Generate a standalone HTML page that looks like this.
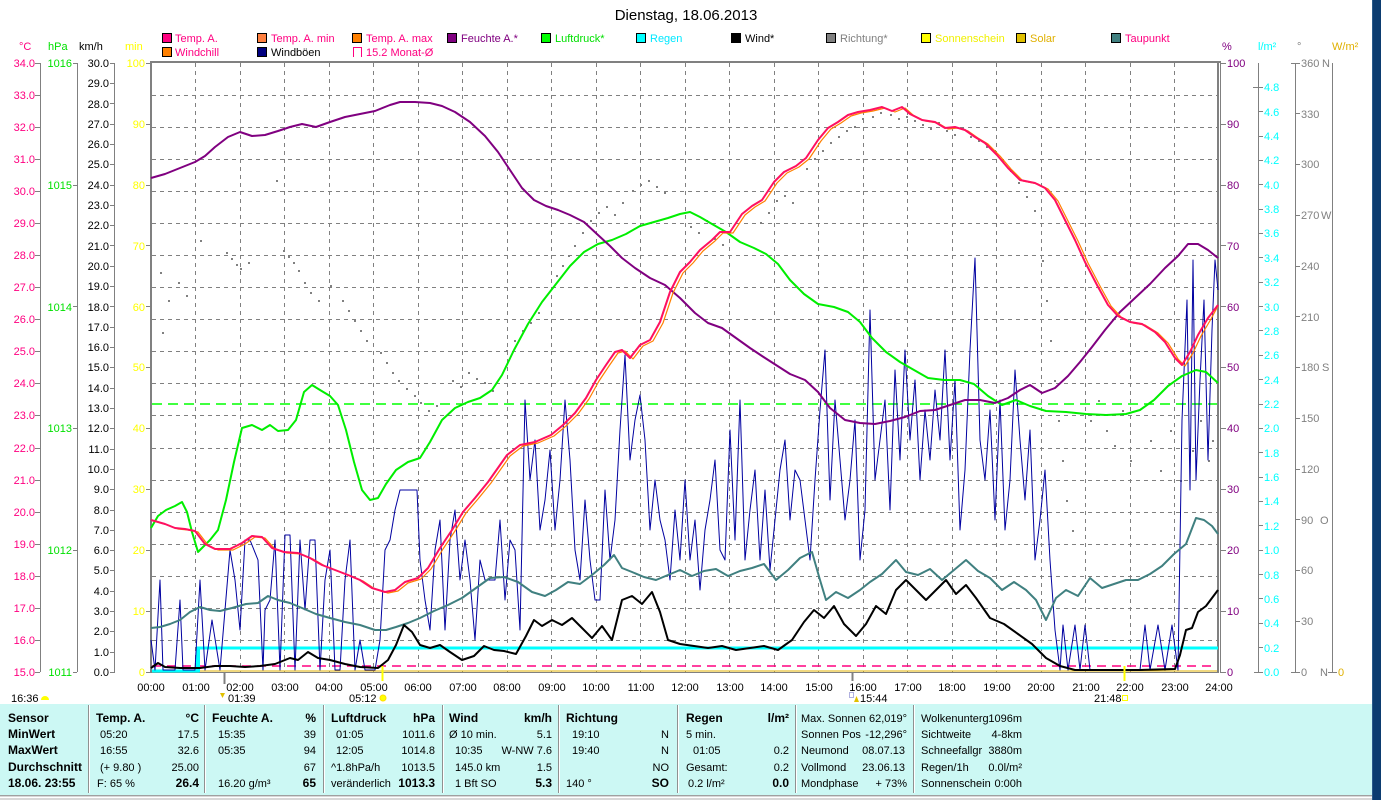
<!DOCTYPE html>
<html><head><meta charset="utf-8"><style>
html,body{margin:0;padding:0;background:#fff;}
body{width:1381px;height:800px;overflow:hidden;}
svg text{font-family:"Liberation Sans",Arial,sans-serif;}
</style></head><body>
<svg width="1381" height="800" viewBox="0 0 1381 800" xmlns="http://www.w3.org/2000/svg">
<rect x="0" y="0" width="1381" height="800" fill="#fff"/>
<!-- Title -->
<text x="686" y="20" font-size="15" text-anchor="middle" fill="#000">Dienstag, 18.06.2013</text>

<!-- Legend -->
<g font-size="11">
<rect x="162.5" y="33.5" width="9" height="9" fill="#ff0080" stroke="#000"/><text x="175" y="42" fill="#ff0080">Temp. A.</text>
<rect x="257.5" y="33.5" width="9" height="9" fill="#ff8040" stroke="#000"/><text x="271" y="42" fill="#ff0080">Temp. A. min</text>
<rect x="352.5" y="33.5" width="9" height="9" fill="#ff8000" stroke="#000"/><text x="366" y="42" fill="#ff0080">Temp. A. max</text>
<rect x="447.5" y="33.5" width="9" height="9" fill="#800080" stroke="#000"/><text x="461" y="42" fill="#800080">Feuchte A.*</text>
<rect x="541.5" y="33.5" width="9" height="9" fill="#00ff00" stroke="#000"/><text x="555" y="42" fill="#00e000">Luftdruck*</text>
<rect x="636.5" y="33.5" width="9" height="9" fill="#00ffff" stroke="#000"/><text x="650" y="42" fill="#00e8ff">Regen</text>
<rect x="731.5" y="33.5" width="9" height="9" fill="#000" stroke="#000"/><text x="745" y="42" fill="#000">Wind*</text>
<rect x="826.5" y="33.5" width="9" height="9" fill="#808080" stroke="#000"/><text x="840" y="42" fill="#808080">Richtung*</text>
<rect x="921.5" y="33.5" width="9" height="9" fill="#ffff00" stroke="#000"/><text x="935" y="42" fill="#f0f000">Sonnenschein</text>
<rect x="1016.5" y="33.5" width="9" height="9" fill="#e0c000" stroke="#000"/><text x="1030" y="42" fill="#e0b000">Solar</text>
<rect x="1111.5" y="33.5" width="9" height="9" fill="#408080" stroke="#000"/><text x="1125" y="42" fill="#ff0080">Taupunkt</text>
<rect x="162.5" y="47.5" width="9" height="9" fill="#ff8000" stroke="#000"/><text x="175" y="56" fill="#ff0080">Windchill</text>
<rect x="257.5" y="47.5" width="9" height="9" fill="#000080" stroke="#000"/><text x="271" y="56" fill="#000">Windböen</text>
<path d="M353.5 57 V47.5 H361.5 V57" fill="none" stroke="#ff0080"/><text x="366" y="56" fill="#ff0080">15.2 Monat-Ø</text>
</g>

<!-- Axis unit labels -->
<g font-size="11">
<text x="19" y="50" fill="#ff0080">°C</text>
<text x="48" y="50" fill="#00e000">hPa</text>
<text x="79" y="50" fill="#000">km/h</text>
<text x="125" y="50" fill="#ffff00">min</text>
<text x="1222" y="50" fill="#800080">%</text>
<text x="1258" y="50" fill="#00ffff">l/m²</text>
<text x="1297" y="50" fill="#808080">°</text>
<text x="1332" y="50" fill="#e0b000">W/m²</text>
</g>

<!-- Grid -->
<g stroke="#808080" stroke-width="1" stroke-dasharray="4,4" fill="none">
<path d="M152 640.5H1217M152 608.5H1217M152 576.5H1217M152 544.5H1217M152 512.5H1217M152 480.5H1217M152 448.5H1217M152 415.5H1217M152 383.5H1217M152 351.5H1217M152 319.5H1217M152 287.5H1217M152 255.5H1217M152 223.5H1217M152 191.5H1217M152 159.5H1217M152 127.5H1217M152 95.5H1217"/>
<path d="M195.5 63V672M240.5 63V672M284.5 63V672M329.5 63V672M373.5 63V672M418.5 63V672M462.5 63V672M507.5 63V672M551.5 63V672M596.5 63V672M640.5 63V672M685.5 63V672M729.5 63V672M774.5 63V672M818.5 63V672M863.5 63V672M907.5 63V672M952.5 63V672M996.5 63V672M1041.5 63V672M1085.5 63V672M1130.5 63V672M1174.5 63V672"/>
</g>

<!-- Left axes -->
<g stroke="#808080" stroke-width="1" fill="none">
<path d="M40.5 63V672M77.5 63V672M114.5 63V672"/>
<path d="M35 63.5h5M35 95.5h5M35 127.5h5M35 159.5h5M35 191.5h5M35 223.5h5M35 255.5h5M35 287.5h5M35 319.5h5M35 351.5h5M35 383.5h5M35 415.5h5M35 448.5h5M35 480.5h5M35 512.5h5M35 544.5h5M35 576.5h5M35 608.5h5M35 640.5h5M35 672.5h5"/>
<path d="M73 63.5h4M73 185.5h4M73 306.5h4M73 428.5h4M73 550.5h4M73 672.5h4"/>
<path d="M110 63.5h5M110 83.5h5M110 103.5h5M110 124.5h5M110 144.5h5M110 164.5h5M110 185.5h5M110 205.5h5M110 225.5h5M110 245.5h5M110 266.5h5M110 286.5h5M110 306.5h5M110 327.5h5M110 347.5h5M110 367.5h5M110 388.5h5M110 408.5h5M110 428.5h5M110 449.5h5M110 469.5h5M110 489.5h5M110 510.5h5M110 530.5h5M110 550.5h5M110 570.5h5M110 591.5h5M110 611.5h5M110 631.5h5M110 652.5h5M110 672.5h5"/>
<path d="M146 63.5h5M146 124.5h5M146 185.5h5M146 245.5h5M146 306.5h5M146 367.5h5M146 428.5h5M146 489.5h5M146 550.5h5M146 611.5h5M146 672.5h5"/>
</g>
<g font-size="11" text-anchor="end">
<g fill="#ff0080">
<text x="35" y="67">34.0</text><text x="35" y="99">33.0</text><text x="35" y="131">32.0</text><text x="35" y="163">31.0</text><text x="35" y="195">30.0</text><text x="35" y="227">29.0</text><text x="35" y="259">28.0</text><text x="35" y="291">27.0</text><text x="35" y="323">26.0</text><text x="35" y="355">25.0</text><text x="35" y="387">24.0</text><text x="35" y="419">23.0</text><text x="35" y="452">22.0</text><text x="35" y="484">21.0</text><text x="35" y="516">20.0</text><text x="35" y="548">19.0</text><text x="35" y="580">18.0</text><text x="35" y="612">17.0</text><text x="35" y="644">16.0</text><text x="35" y="676">15.0</text>
</g>
<g fill="#00e000">
<text x="72" y="67">1016</text><text x="72" y="189">1015</text><text x="72" y="311">1014</text><text x="72" y="432">1013</text><text x="72" y="554">1012</text><text x="72" y="676">1011</text>
</g>
<g fill="#000">
<text x="109" y="67">30.0</text><text x="109" y="87">29.0</text><text x="109" y="108">28.0</text><text x="109" y="128">27.0</text><text x="109" y="148">26.0</text><text x="109" y="168">25.0</text><text x="109" y="189">24.0</text><text x="109" y="209">23.0</text><text x="109" y="229">22.0</text><text x="109" y="250">21.0</text><text x="109" y="270">20.0</text><text x="109" y="290">19.0</text><text x="109" y="311">18.0</text><text x="109" y="331">17.0</text><text x="109" y="351">16.0</text><text x="109" y="371">15.0</text><text x="109" y="392">14.0</text><text x="109" y="412">13.0</text><text x="109" y="432">12.0</text><text x="109" y="453">11.0</text><text x="109" y="473">10.0</text><text x="109" y="493">9.0</text><text x="109" y="514">8.0</text><text x="109" y="534">7.0</text><text x="109" y="554">6.0</text><text x="109" y="574">5.0</text><text x="109" y="595">4.0</text><text x="109" y="615">3.0</text><text x="109" y="635">2.0</text><text x="109" y="656">1.0</text><text x="109" y="676">0.0</text>
</g>
<g fill="#ffff00">
<text x="145" y="67">100</text><text x="145" y="128">90</text><text x="145" y="189">80</text><text x="145" y="250">70</text><text x="145" y="311">60</text><text x="145" y="371">50</text><text x="145" y="432">40</text><text x="145" y="493">30</text><text x="145" y="554">20</text><text x="145" y="615">10</text><text x="145" y="676">0</text>
</g>
</g>

<!-- Right axes -->
<g stroke="#808080" stroke-width="1" fill="none">
<path d="M1258.5 63V672M1295.5 63V672M1332.5 63V672"/>
<path d="M1221 63.5h5M1221 124.5h5M1221 185.5h5M1221 245.5h5M1221 306.5h5M1221 367.5h5M1221 428.5h5M1221 489.5h5M1221 550.5h5M1221 611.5h5M1221 672.5h5"/>
<path d="M1253 87.5h10M1259 111.5h4M1259 136.5h4M1259 160.5h4M1259 184.5h4M1259 209.5h4M1259 233.5h4M1259 257.5h4M1259 282.5h4M1259 306.5h4M1259 330.5h4M1259 355.5h4M1259 379.5h4M1259 404.5h4M1259 428.5h4M1259 452.5h4M1259 477.5h4M1259 501.5h4M1259 525.5h4M1259 550.5h4M1259 574.5h4M1259 598.5h4M1259 623.5h4M1259 647.5h4M1254 672.5h9"/>
<path d="M1291 63.5h9M1296 113.5h4M1296 164.5h4M1296 215.5h4M1296 266.5h4M1296 316.5h4M1296 367.5h4M1296 418.5h4M1296 469.5h4M1296 519.5h4M1296 570.5h4M1296 621.5h4M1291 672.5h9"/>
<path d="M1328 672.5h9"/>
</g>
<g font-size="11">
<g fill="#800080">
<text x="1227" y="67">100</text><text x="1227" y="128">90</text><text x="1227" y="189">80</text><text x="1227" y="250">70</text><text x="1227" y="311">60</text><text x="1227" y="371">50</text><text x="1227" y="432">40</text><text x="1227" y="493">30</text><text x="1227" y="554">20</text><text x="1227" y="615">10</text><text x="1227" y="676">0</text>
</g>
<g fill="#00ffff">
<text x="1264" y="91">4.8</text><text x="1264" y="116">4.6</text><text x="1264" y="140">4.4</text><text x="1264" y="164">4.2</text><text x="1264" y="189">4.0</text><text x="1264" y="213">3.8</text><text x="1264" y="237">3.6</text><text x="1264" y="262">3.4</text><text x="1264" y="286">3.2</text><text x="1264" y="311">3.0</text><text x="1264" y="335">2.8</text><text x="1264" y="359">2.6</text><text x="1264" y="384">2.4</text><text x="1264" y="408">2.2</text><text x="1264" y="432">2.0</text><text x="1264" y="457">1.8</text><text x="1264" y="481">1.6</text><text x="1264" y="505">1.4</text><text x="1264" y="530">1.2</text><text x="1264" y="554">1.0</text><text x="1264" y="579">0.8</text><text x="1264" y="603">0.6</text><text x="1264" y="627">0.4</text><text x="1264" y="652">0.2</text><text x="1264" y="676">0.0</text>
</g>
<g fill="#808080">
<text x="1301" y="67">360</text><text x="1322" y="67">N</text>
<text x="1301" y="118">330</text>
<text x="1301" y="168">300</text>
<text x="1301" y="219">270</text><text x="1321" y="219">W</text>
<text x="1301" y="270">240</text>
<text x="1301" y="321">210</text>
<text x="1301" y="371">180</text><text x="1322" y="371">S</text>
<text x="1301" y="422">150</text>
<text x="1301" y="473">120</text>
<text x="1301" y="524">90</text><text x="1320" y="524">O</text>
<text x="1301" y="574">60</text>
<text x="1301" y="625">30</text>
<text x="1301" y="676">0</text><text x="1320" y="676">N</text>
</g>
<text x="1338" y="676" fill="#e0b000">0</text>
</g>

<!-- Plot frame -->
<g stroke="#808080" fill="none">
<path d="M150 62H1221" stroke-width="2"/>
<path d="M151 62V673" stroke-width="2"/>
<path d="M1218 62V673" stroke-width="2"/>
<path d="M1220.5 62V673" stroke-width="1"/>
<path d="M151 672.5H1218" stroke-width="1"/>
</g>

<!-- Reference dashed lines -->
<path d="M152 404H1217" stroke="#00ff00" stroke-width="1.5" stroke-dasharray="10,6" fill="none"/>
<path d="M152 666H1217" stroke="#ff0080" stroke-width="1.5" stroke-dasharray="9,6" fill="none"/>
<path d="M152 671H1217" stroke="#e0b000" stroke-width="1" fill="none"/>

<!-- Richtung dots -->
<path fill="#808080" d="M160 272h2v2h-2zM162 332h2v2h-2zM168 300h2v2h-2zM178 282h2v2h-2zM186 295h2v2h-2zM200 240h2v2h-2zM226 252h2v2h-2zM231 258h2v2h-2zM236 264h2v2h-2zM240 268h2v2h-2zM248 262h2v2h-2zM276 180h2v2h-2zM283 250h2v2h-2zM288 256h2v2h-2zM293 262h2v2h-2zM298 270h2v2h-2zM304 282h2v2h-2zM310 292h2v2h-2zM318 300h2v2h-2zM330 285h2v2h-2zM342 300h2v2h-2zM348 310h2v2h-2zM354 320h2v2h-2zM360 330h2v2h-2zM366 340h2v2h-2zM380 352h2v2h-2zM386 362h2v2h-2zM392 372h2v2h-2zM398 380h2v2h-2zM406 388h2v2h-2zM414 395h2v2h-2zM420 402h2v2h-2zM428 410h2v2h-2zM436 405h2v2h-2zM452 380h2v2h-2zM460 386h2v2h-2zM468 372h2v2h-2zM476 378h2v2h-2zM484 382h2v2h-2zM492 390h2v2h-2zM506 350h2v2h-2zM514 340h2v2h-2zM522 330h2v2h-2zM530 322h2v2h-2zM538 312h2v2h-2zM556 275h2v2h-2zM562 265h2v2h-2zM568 255h2v2h-2zM574 245h2v2h-2zM582 232h2v2h-2zM590 220h2v2h-2zM598 212h2v2h-2zM606 206h2v2h-2zM614 214h2v2h-2zM622 202h2v2h-2zM632 190h2v2h-2zM640 184h2v2h-2zM648 180h2v2h-2zM656 186h2v2h-2zM664 192h2v2h-2zM690 226h2v2h-2zM698 232h2v2h-2zM706 220h2v2h-2zM714 238h2v2h-2zM722 244h2v2h-2zM760 222h2v2h-2zM768 212h2v2h-2zM776 200h2v2h-2zM784 195h2v2h-2zM792 202h2v2h-2zM806 168h2v2h-2zM814 158h2v2h-2zM822 150h2v2h-2zM830 142h2v2h-2zM838 136h2v2h-2zM846 130h2v2h-2zM854 126h2v2h-2zM862 118h2v2h-2zM872 116h2v2h-2zM880 112h2v2h-2zM890 114h2v2h-2zM898 118h2v2h-2zM906 116h2v2h-2zM914 120h2v2h-2zM922 124h2v2h-2zM930 128h2v2h-2zM938 122h2v2h-2zM946 130h2v2h-2zM954 134h2v2h-2zM962 128h2v2h-2zM970 136h2v2h-2zM978 140h2v2h-2zM986 146h2v2h-2zM994 150h2v2h-2zM1002 160h2v2h-2zM1010 170h2v2h-2zM1018 182h2v2h-2zM1026 196h2v2h-2zM1034 210h2v2h-2zM1042 260h2v2h-2zM1046 300h2v2h-2zM1050 340h2v2h-2zM1054 380h2v2h-2zM1058 420h2v2h-2zM1062 460h2v2h-2zM1066 500h2v2h-2zM1072 530h2v2h-2zM1090 420h2v2h-2zM1098 400h2v2h-2zM1106 430h2v2h-2zM1114 445h2v2h-2zM1122 410h2v2h-2zM1130 460h2v2h-2zM1150 440h2v2h-2zM1160 470h2v2h-2zM1170 430h2v2h-2zM1180 480h2v2h-2zM1192 450h2v2h-2zM1200 420h2v2h-2zM1208 460h2v2h-2zM1212 440h2v2h-2z"/>

<!-- Regen -->
<path d="M152 671H198V648H1218" fill="none" stroke="#00ffff" stroke-width="3"/>
<rect x="196" y="648" width="4" height="24" fill="#00ffff"/>

<!-- Windböen -->
<polyline fill="none" stroke="#0000a0" stroke-width="1" stroke-linejoin="round" points="151,640 155,670 160,580 163,670 175,670 180,600 183,670 195,670 200,580 205,670 212,620 220,670 230,550 235,580 240,630 245,540 250,540 258,560 263,670 265,610 270,600 275,540 280,670 285,535 290,535 295,670 300,540 305,610 310,540 315,540 320,670 325,580 330,550 335,670 340,670 345,580 350,540 355,670 360,640 365,670 375,670 380,640 385,550 390,540 395,510 400,490 410,490 417,490 420,560 425,600 430,630 435,550 440,520 445,630 450,540 455,510 460,580 465,540 470,580 475,640 480,560 485,580 495,580 500,520 505,600 510,540 515,550 520,630 525,400 530,480 535,440 540,530 545,500 550,450 555,530 560,480 565,400 570,460 575,550 580,580 585,500 590,560 595,600 600,600 605,490 610,560 615,520 620,430 625,355 630,460 635,420 640,395 645,440 650,530 655,480 660,520 665,540 670,580 675,510 680,560 685,480 690,560 695,520 700,590 705,530 710,500 715,460 720,550 725,560 730,430 735,540 740,400 745,560 750,510 755,470 760,560 765,490 770,570 775,520 780,470 785,440 790,520 795,470 800,480 805,520 810,560 815,480 820,410 825,350 830,500 835,400 840,460 845,520 850,480 855,420 860,560 865,510 870,310 875,480 880,440 885,400 890,510 895,370 900,460 905,350 910,440 915,380 920,480 925,410 930,460 935,390 940,440 945,350 950,460 955,380 960,530 965,470 970,350 975,258 980,440 985,480 990,410 995,520 1000,400 1005,530 1010,480 1015,370 1020,440 1025,500 1030,430 1035,560 1040,520 1045,470 1050,560 1055,630 1060,670 1063,625 1068,670 1075,625 1080,670 1085,625 1090,670 1140,670 1145,625 1150,670 1158,625 1165,670 1172,625 1178,670 1182,420 1187,300 1190,490 1193,260 1196,480 1200,380 1204,300 1208,460 1212,330 1215,260 1218,290"/>

<!-- Taupunkt -->
<polyline fill="none" stroke="#408080" stroke-width="2" stroke-linejoin="round" points="151,628 160,627 170,624 180,620 190,612 200,607 210,610 220,611 232,608 246,604 258,603 268,596 278,600 290,603 302,608 316,614 330,618 345,622 360,625 375,630 386,630 396,627 408,623 420,618 434,611 448,605 462,598 476,588 490,578 504,577 518,582 532,592 545,596 556,590 568,582 580,584 592,575 604,565 614,555 622,568 632,572 644,577 656,580 668,575 680,570 692,576 704,571 716,569 728,576 740,571 752,568 764,564 776,580 788,570 800,558 812,552 820,580 826,600 836,592 848,598 860,590 870,582 882,574 896,560 906,572 918,575 930,569 942,580 954,570 966,560 978,571 990,578 1002,590 1014,582 1026,590 1036,600 1046,620 1056,598 1066,590 1078,596 1090,578 1102,588 1114,584 1126,580 1138,580 1150,574 1162,566 1174,554 1186,544 1196,518 1204,520 1212,526 1218,534"/>

<!-- Wind -->
<polyline fill="none" stroke="#000" stroke-width="2" stroke-linejoin="round" points="151,668 158,663 165,667 180,668 200,668 215,666 230,666 245,667 260,666 275,664 290,658 298,660 308,652 318,658 330,660 345,664 360,667 378,668 388,660 396,645 404,625 412,632 420,645 430,648 440,645 450,652 462,660 474,656 484,646 494,650 504,651 516,654 526,636 534,620 542,626 552,620 562,625 572,618 582,628 592,638 602,626 612,640 622,600 632,596 642,604 652,592 660,612 668,640 680,644 694,646 708,648 722,646 736,650 750,648 764,646 778,650 792,640 804,622 814,610 824,618 834,606 844,624 856,636 866,624 876,606 886,614 896,590 906,580 916,590 926,600 936,590 946,580 956,594 966,585 976,598 990,618 1004,624 1018,634 1032,644 1046,658 1060,666 1075,670 1100,670 1140,670 1175,669 1180,655 1186,630 1192,628 1198,612 1206,606 1212,598 1218,590"/>

<!-- Luftdruck -->
<polyline fill="none" stroke="#00ee00" stroke-width="2" stroke-linejoin="round" points="151,528 158,516 166,510 175,506 182,502 187,512 192,532 198,552 204,546 210,540 218,530 226,500 234,462 242,428 252,425 262,430 270,425 278,431 288,430 296,420 304,392 312,385 320,390 330,396 338,405 346,430 354,462 362,490 370,500 378,498 386,484 396,470 408,462 420,458 430,442 442,420 455,408 468,402 480,398 492,390 502,375 514,350 528,324 542,302 556,284 570,266 584,252 598,244 612,240 626,234 640,226 654,222 668,218 680,214 690,212 700,217 712,224 726,232 740,242 754,248 766,254 778,264 790,280 804,294 818,304 834,307 848,312 860,322 872,338 886,352 900,362 914,370 928,378 944,380 960,380 974,384 988,396 1002,405 1016,400 1030,406 1046,411 1066,412 1086,414 1106,415 1126,414 1140,410 1154,400 1168,386 1182,376 1196,370 1206,372 1218,383"/>

<!-- Feuchte -->
<polyline fill="none" stroke="#800080" stroke-width="2" stroke-linejoin="round" points="151,178 165,174 180,168 195,162 205,156 215,147 228,137 240,132 252,136 265,135 278,131 290,127 302,124 316,127 330,122 345,117 360,114 375,111 390,105 400,102 415,102 430,103 442,106 455,112 470,122 485,136 498,152 510,170 522,188 534,200 546,206 558,210 570,215 584,222 598,235 610,246 622,258 635,268 650,278 665,285 680,298 695,313 708,323 722,328 736,338 750,348 762,356 776,365 790,374 805,380 818,392 830,408 845,420 860,423 875,424 890,421 905,417 920,411 935,410 950,405 965,400 980,400 995,403 1008,398 1020,390 1030,385 1042,393 1055,388 1068,376 1080,362 1092,347 1105,330 1120,312 1135,298 1150,284 1165,268 1178,256 1188,244 1198,244 1208,250 1218,258"/>

<!-- Temperature max / windchill (orange) -->
<polyline transform="translate(3,1)" fill="none" stroke="#ff8000" stroke-width="1.2" stroke-linejoin="round" points="151,520 165,524 175,528 185,529 195,531 205,544 215,549 230,549 242,543 252,536 262,537 272,548 284,552 298,553 310,558 322,565 335,570 348,575 360,580 372,588 385,592 395,590 405,582 418,578 428,568 440,548 452,530 463,512 475,498 488,482 500,465 507,455 520,445 535,442 551,435 563,425 575,413 586,398 596,380 606,365 615,352 622,350 630,358 640,345 650,340 660,322 670,292 680,272 690,262 700,250 712,240 720,232 730,232 742,214 752,206 762,200 774,182 784,172 796,166 806,158 818,140 828,128 838,122 848,115 858,112 870,110 882,107 892,111 902,107 910,114 922,120 935,122 945,128 955,127 965,130 975,137 985,143 997,155 1008,168 1020,180 1035,183 1045,188 1055,200 1065,220 1075,240 1085,262 1097,285 1108,305 1118,316 1130,322 1142,324 1155,332 1165,342 1175,358 1182,365 1190,352 1198,335 1208,318 1215,305"/>
<!-- Temperature -->
<polyline fill="none" stroke="#ff1060" stroke-width="2" stroke-linejoin="round" points="151,520 165,524 175,528 185,529 195,531 205,544 215,549 230,549 242,543 252,536 262,537 272,548 284,552 298,553 310,558 322,565 335,570 348,575 360,580 372,588 385,592 395,590 405,582 418,578 428,568 440,548 452,530 463,512 475,498 488,482 500,465 507,455 520,445 535,442 551,435 563,425 575,413 586,398 596,380 606,365 615,352 622,350 630,358 640,345 650,340 660,322 670,292 680,272 690,262 700,250 712,240 720,232 730,232 742,214 752,206 762,200 774,182 784,172 796,166 806,158 818,140 828,128 838,122 848,115 858,112 870,110 882,107 892,111 902,107 910,114 922,120 935,122 945,128 955,127 965,130 975,137 985,143 997,155 1008,168 1020,180 1035,183 1045,188 1055,200 1065,220 1075,240 1085,262 1097,285 1108,305 1118,316 1130,322 1142,324 1155,332 1165,342 1175,358 1182,365 1190,352 1198,335 1208,318 1218,305"/>

<!-- Bottom markers -->
<path d="M224.5 672V684" stroke="#808080" stroke-width="2"/>
<path d="M382.5 666V681" stroke="#ffff00" stroke-width="2"/>
<path d="M852.5 672V681" stroke="#808080" stroke-width="2"/>
<path d="M1124.5 666V681" stroke="#ffff00" stroke-width="2"/>

<!-- Hour labels -->
<g font-size="11" text-anchor="middle" fill="#000">
<text x="151" y="691">00:00</text><text x="196" y="691">01:00</text><text x="240" y="691">02:00</text><text x="285" y="691">03:00</text><text x="329" y="691">04:00</text><text x="374" y="691">05:00</text><text x="418" y="691">06:00</text><text x="463" y="691">07:00</text><text x="507" y="691">08:00</text><text x="552" y="691">09:00</text><text x="596" y="691">10:00</text><text x="641" y="691">11:00</text><text x="685" y="691">12:00</text><text x="730" y="691">13:00</text><text x="774" y="691">14:00</text><text x="819" y="691">15:00</text><text x="863" y="691">16:00</text><text x="908" y="691">17:00</text><text x="952" y="691">18:00</text><text x="997" y="691">19:00</text><text x="1041" y="691">20:00</text><text x="1086" y="691">21:00</text><text x="1130" y="691">22:00</text><text x="1175" y="691">23:00</text><text x="1219" y="691">24:00</text>
</g>
<g font-size="11" fill="#000">
<text x="11" y="702">16:36</text>
<path d="M41 700a4 4 0 0 1 8 0z" fill="#ffff00"/>
<path d="M220 693h5l-2.5 5z" fill="#e0c000"/>
<text x="228" y="702">01:39</text>
<text x="349" y="702">05:12</text>
<circle cx="383" cy="698" r="3" fill="#ffff00" stroke="#ffe000"/>
<rect x="849.5" y="692.5" width="4" height="5" fill="none" stroke="#6060c0" stroke-dasharray="1,1"/>
<path d="M854 702h5l-2.5 -6z" fill="#e0c000"/>
<text x="860" y="702">15:44</text>
<text x="1094" y="702">21:48</text>
<rect x="1122.5" y="695.5" width="5" height="5" fill="none" stroke="#ffff00"/>
</g>

<!-- Bottom table -->
<rect x="0" y="704" width="1373" height="91" fill="#ccf8f4"/>
<rect x="0" y="795" width="1373" height="5" fill="#d8d8d8"/>
<path d="M0 795.5H1373" stroke="#a0a0a0"/>
<path d="M0 797.5H1373" stroke="#ffffff"/>
<g stroke-width="1">
<path d="M88.5 705V793M204.5 705V793M323.5 705V793M442.5 705V793M558.5 705V793M677.5 705V793M795.5 705V793M913.5 705V793" stroke="#909090"/>
<path d="M89.5 705V793M205.5 705V793M324.5 705V793M443.5 705V793M559.5 705V793M678.5 705V793M796.5 705V793M914.5 705V793" stroke="#ffffff"/>
</g>
<g font-size="12" font-weight="bold" fill="#000">
<text x="8" y="722">Sensor</text>
<text x="8" y="738">MinWert</text>
<text x="8" y="754">MaxWert</text>
<text x="8" y="771">Durchschnitt</text>
<text x="8" y="787">18.06. 23:55</text>
<text x="96" y="722">Temp. A.</text><text x="199" y="722" text-anchor="end">°C</text>
<text x="199" y="787" text-anchor="end">26.4</text>
<text x="212" y="722">Feuchte A.</text><text x="316" y="722" text-anchor="end">%</text>
<text x="316" y="787" text-anchor="end">65</text>
<text x="331" y="722">Luftdruck</text><text x="435" y="722" text-anchor="end">hPa</text>
<text x="435" y="787" text-anchor="end">1013.3</text>
<text x="449" y="722">Wind</text><text x="552" y="722" text-anchor="end">km/h</text>
<text x="552" y="787" text-anchor="end">5.3</text>
<text x="566" y="722">Richtung</text>
<text x="669" y="787" text-anchor="end">SO</text>
<text x="686" y="722">Regen</text><text x="789" y="722" text-anchor="end">l/m²</text>
<text x="789" y="787" text-anchor="end">0.0</text>
</g>
<g font-size="11" fill="#000">
<text x="100" y="738">05:20</text><text x="199" y="738" text-anchor="end">17.5</text>
<text x="100" y="754">16:55</text><text x="199" y="754" text-anchor="end">32.6</text>
<text x="100" y="771">(+ 9.80 )</text><text x="199" y="771" text-anchor="end">25.00</text>
<text x="97" y="787">F: 65 %</text>

<text x="218" y="738">15:35</text><text x="316" y="738" text-anchor="end">39</text>
<text x="218" y="754">05:35</text><text x="316" y="754" text-anchor="end">94</text>
<text x="316" y="771" text-anchor="end">67</text>
<text x="218" y="787">16.20 g/m³</text>

<text x="336" y="738">01:05</text><text x="435" y="738" text-anchor="end">1011.6</text>
<text x="336" y="754">12:05</text><text x="435" y="754" text-anchor="end">1014.8</text>
<text x="331" y="771">^1.8hPa/h</text><text x="435" y="771" text-anchor="end">1013.5</text>
<text x="331" y="787">veränderlich</text>

<text x="449" y="738">Ø 10 min.</text><text x="552" y="738" text-anchor="end">5.1</text>
<text x="455" y="754">10:35</text><text x="552" y="754" text-anchor="end">W-NW 7.6</text>
<text x="455" y="771">145.0 km</text><text x="552" y="771" text-anchor="end">1.5</text>
<text x="455" y="787">1 Bft SO</text>

<text x="572" y="738">19:10</text><text x="669" y="738" text-anchor="end">N</text>
<text x="572" y="754">19:40</text><text x="669" y="754" text-anchor="end">N</text>
<text x="669" y="771" text-anchor="end">NO</text>
<text x="566" y="787">140 °</text>

<text x="686" y="738">5 min.</text>
<text x="693" y="754">01:05</text><text x="789" y="754" text-anchor="end">0.2</text>
<text x="686" y="771">Gesamt:</text><text x="789" y="771" text-anchor="end">0.2</text>
<text x="688" y="787">0.2 l/m²</text>

<text x="801" y="722">Max. Sonnen</text><text x="907" y="722" text-anchor="end">62,019°</text>
<text x="801" y="738">Sonnen Pos</text><text x="907" y="738" text-anchor="end">-12,296°</text>
<text x="801" y="754">Neumond</text><text x="905" y="754" text-anchor="end">08.07.13</text>
<text x="801" y="771">Vollmond</text><text x="905" y="771" text-anchor="end">23.06.13</text>
<text x="801" y="787">Mondphase</text><text x="907" y="787" text-anchor="end">+ 73%</text>

<text x="921" y="722">Wolkenunterg</text><text x="1022" y="722" text-anchor="end">1096m</text>
<text x="921" y="738">Sichtweite</text><text x="1022" y="738" text-anchor="end">4-8km</text>
<text x="921" y="754">Schneefallgr</text><text x="1022" y="754" text-anchor="end">3880m</text>
<text x="921" y="771">Regen/1h</text><text x="1022" y="771" text-anchor="end">0.0l/m²</text>
<text x="921" y="787">Sonnenschein</text><text x="1022" y="787" text-anchor="end">0:00h</text>
</g>

<!-- Right desktop strip -->
<rect x="1373" y="0" width="8" height="800" fill="#0c3c70"/>
<path d="M1372.5 0V800" stroke="#2a5a8a"/>
</svg>
</body></html>
